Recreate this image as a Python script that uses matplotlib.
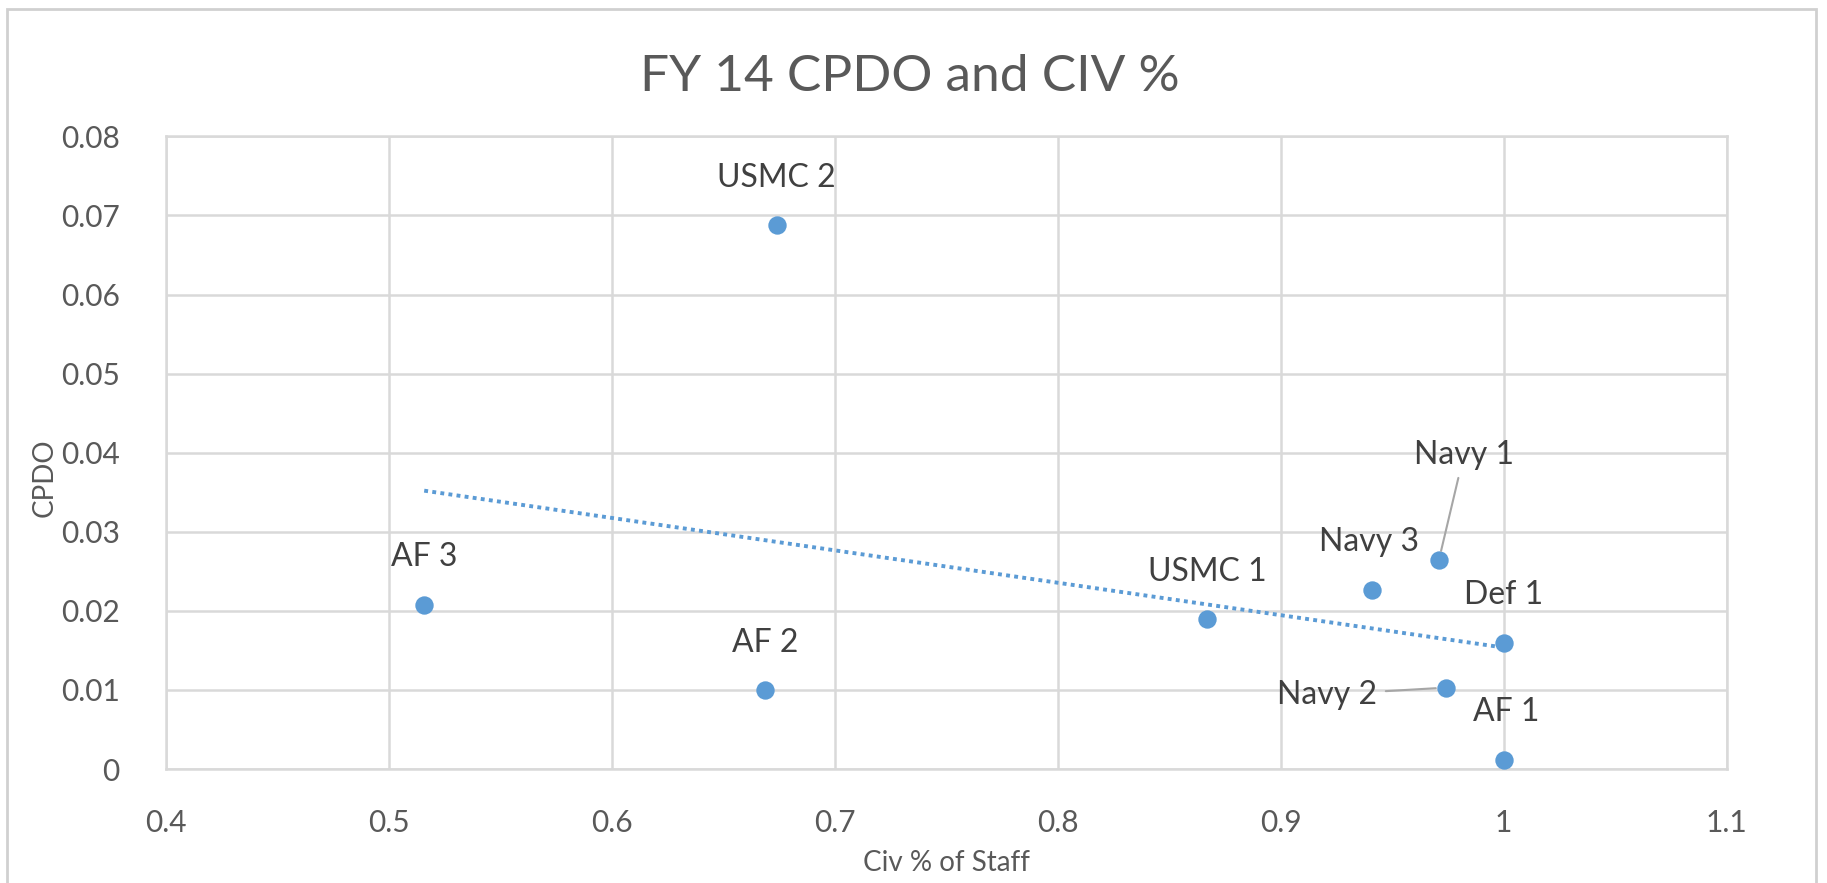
import numpy as np
import matplotlib.pyplot as plt
from matplotlib.patches import Rectangle

plt.rcParams['font.family'] = ['Lato', 'DejaVu Sans']

# values
names = ['USMC 2', 'AF 3', 'AF 2', 'USMC 1', 'Navy 3', 'Navy 1', 'Def 1', 'Navy 2', 'AF 1']
civ_pct = [0.674, 0.516, 0.669, 0.867, 0.941, 0.971, 1.000, 0.974, 1.000]
cpdo = [0.0688, 0.0208, 0.0100, 0.0190, 0.0227, 0.0264, 0.0160, 0.0103, 0.0012]

# label offsets in points (most sit straight above the marker)
offsets = {'Navy 1': (18, 76), 'Navy 2': (-85, -5), 'AF 1': (2, 34), 'Navy 3': (-2, 34)}
leaders = ['Navy 1', 'Navy 2']

blue = '#5B9BD5'
grid_c = '#D9D9D9'
tick_c = '#595959'
lab_c = '#404040'

fig = plt.figure(figsize=(18.27, 8.83), dpi=100)
ax = fig.add_axes([0.0906, 0.129, 0.8544, 0.7166])

# linear trendline over data range (like Excel's)
k, b = np.polyfit(civ_pct, cpdo, 1)
xt = np.array([min(civ_pct), max(civ_pct)])
ax.plot(xt, k * xt + b, linestyle=(0, (1, 1.1)), color=blue, lw=2.8, zorder=2)

ax.scatter(civ_pct, cpdo, s=175, color=blue, zorder=3, linewidths=0)

for n, x, y in zip(names, civ_pct, cpdo):
    dx, dy = offsets.get(n, (0, 34))
    arrow = None
    if n in leaders:
        arrow = dict(arrowstyle='-', color='#A6A6A6', lw=1.5, shrinkA=4, shrinkB=7)
    ax.annotate(n, (x, y), xytext=(dx, dy), textcoords='offset points',
                ha='center', va='center', fontsize=23, color=lab_c,
                arrowprops=arrow, zorder=4)

ax.set_xlim(0.4, 1.1)
ax.set_ylim(0, 0.08)
ax.set_xticks(np.arange(0.4, 1.11, 0.1))
ax.set_xticklabels(['0.4', '0.5', '0.6', '0.7', '0.8', '0.9', '1', '1.1'])
ax.set_yticks(np.arange(0, 0.081, 0.01))
ax.set_yticklabels(['0', '0.01', '0.02', '0.03', '0.04', '0.05', '0.06', '0.07', '0.08'])
ax.grid(True, color=grid_c, lw=1.8)
ax.set_axisbelow(True)
for s in ax.spines.values():
    s.set_color(grid_c)
    s.set_linewidth(1.8)
ax.tick_params(length=0, labelsize=21.5, labelcolor=tick_c)
ax.tick_params(axis='x', pad=29)
ax.tick_params(axis='y', pad=33)

ax.set_xlabel('Civ % of Staff', fontsize=20, color=tick_c)
ax.set_ylabel('CPDO', fontsize=20, color=tick_c)
ax.xaxis.set_label_coords(0.5, -0.128)
ax.yaxis.set_label_coords(-0.069, 0.46)

fig.text(0.498, 0.913, 'FY 14 CPDO and CIV %', ha='center', va='center',
         fontsize=37, color=tick_c)

# outer chart border
fig.patches.append(Rectangle((0.004, -0.01), 0.99, 1.0, transform=fig.transFigure,
                             fill=False, edgecolor='#D0D0D0', lw=2))

fig.savefig('out.png', dpi=100)
